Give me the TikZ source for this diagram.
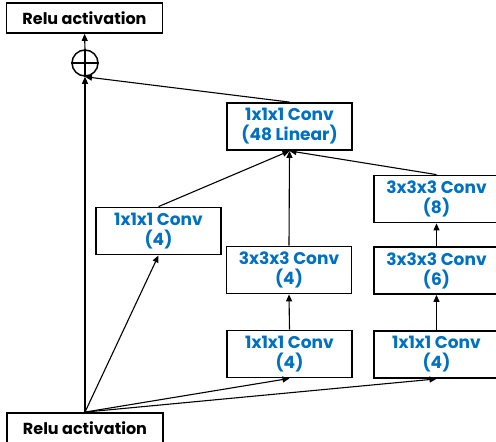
\documentclass[tikz,border=0pt]{standalone}
\usepackage{fontspec}
\setmainfont{Poppins}
\usetikzlibrary{arrows.meta}
\definecolor{convblue}{RGB}{0,112,192}
\tikzset{
  box/.style={draw=black, line width=1.8pt, minimum width=125pt, minimum height=47pt, inner sep=0pt, align=center, font=\bfseries\fontsize{17}{20}\selectfont, text=convblue},
  relubox/.style={draw=black, line width=1.8pt, minimum width=156pt, minimum height=30pt, inner sep=0pt, font=\bfseries\fontsize{16}{19}\selectfont},
  conn/.style={line width=1.1pt, -{Triangle[length=7pt,width=6pt]}},
  plain/.style={line width=1.1pt}
}
\begin{document}
\begin{tikzpicture}[x=1pt,y=-1pt]
\useasboundingbox (0,0) rectangle (496,442);
\node[relubox] (relutop) at (84.5,18) {Relu activation};
\node[relubox] (relubot) at (85,428) {Relu activation};
\node[circle, draw=black, line width=1.5pt, minimum size=26pt, inner sep=0pt] (oplus) at (85,63) {};
\draw[line width=1.5pt] (oplus.north) -- (oplus.south) (oplus.west) -- (oplus.east);
\node[box] (lin) at (289.5,126.5) {1x1x1 Conv\\(48 Linear)};
\node[box] (c1l) at (158.5,231) {1x1x1 Conv\\(4)};
\node[box] (c3m) at (289,270) {3x3x3 Conv\\(4)};
\node[box] (c1m) at (289.5,354) {1x1x1 Conv\\(4)};
\node[box] (c3r8) at (436.5,199) {3x3x3 Conv\\(8)};
\node[box] (c3r6) at (436.5,270.5) {3x3x3 Conv\\(6)};
\node[box] (c1r) at (436.5,354.5) {1x1x1 Conv\\(4)};
\draw[conn] (relubot.north) -- (oplus.south);
\draw[conn] (oplus.north) -- (relutop.south);
\draw[conn] (lin.north) -- (oplus.south);
\draw[conn] (relubot.north) -- (c1l.south);
\draw[conn] (relubot.north) -- (c1m.south);
\draw[conn] (relubot.north) -- (c1r.south);
\draw[conn] (c1m.north) -- (c3m.south);
\draw[conn] (c1r.north) -- (c3r6.south);
\draw[conn] (c3r6.north) -- (c3r8.south);
\draw[conn] (c1l.north) -- (lin.south);
\draw[conn] (c3m.north) -- (lin.south);
\draw[conn] (c3r8.north) -- (lin.south);
\end{tikzpicture}
\end{document}
